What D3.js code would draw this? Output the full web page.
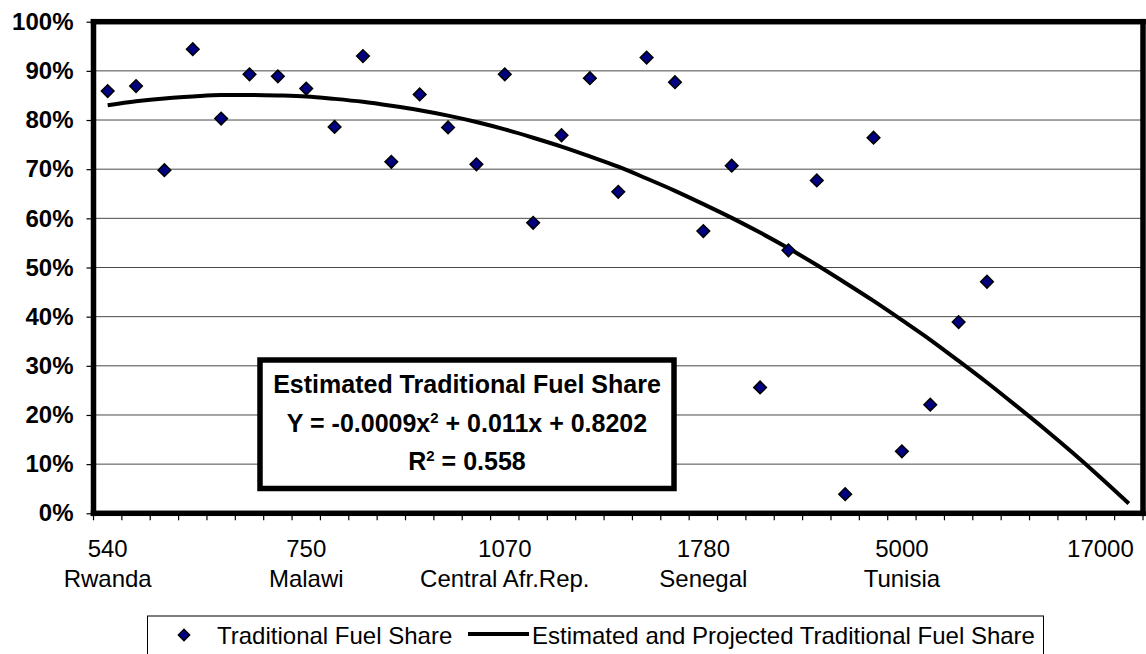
<!DOCTYPE html>
<html>
<head>
<meta charset="utf-8">
<script src="https://cdn.jsdelivr.net/npm/d3@7"></script>
<style>
  body { margin: 0; background: #fff; }
  svg { display: block; font-family: "Liberation Sans", Arial, sans-serif; }
</style>
</head>
<body>
<svg width="1146" height="654"></svg>
<script>
// income categories along the x axis (37 slots, only every 7th is labelled)
var nCategories = 37;
var tickIndex   = [0, 7, 14, 21, 28, 35];
var tickIncome  = ["540", "750", "1070", "1780", "5000", "17000"];
var tickCountry = ["Rwanda", "Malawi", "Central Afr.Rep.", "Senegal", "Tunisia", ""];

// observed traditional fuel share (%), one per country, slots 0..31
var fuelShare = [85.9, 86.9, 69.8, 94.4, 80.3, 89.3, 88.9, 86.4, 78.6, 93.0,
                 71.5, 85.2, 78.5, 71.0, 89.3, 59.1, 76.9, 88.5, 65.4, 92.7,
                 87.7, 57.4, 70.7, 25.6, 53.5, 67.7, 3.9, 76.4, 12.6, 22.1,
                 38.9, 47.1];

// estimated and projected trend (%), slots 0..36
var trendShare = [83.0, 83.8, 84.4, 84.8, 85.1, 85.1, 85.0, 84.8, 84.3, 83.7,
                  82.9, 82.0, 80.9, 79.6, 78.1, 76.4, 74.6, 72.6, 70.5, 68.1,
                  65.6, 62.9, 60.1, 57.1, 53.9, 50.5, 46.9, 43.2, 39.3, 35.3,
                  31.0, 26.6, 22.0, 17.3, 12.4, 7.3, 2.0];

var yTicks = [0, 10, 20, 30, 40, 50, 60, 70, 80, 90, 100];

// plot area edges (names avoid clashing with window.top)
var plotL = 93.5, plotR = 1143, plotT = 21.7, plotB = 513.3;
var frameW = 5.5;

var svg = d3.select("svg");

var x = d3.scaleBand()
    .domain(d3.range(nCategories))
    .range([plotL, plotR])
    .paddingInner(0).paddingOuter(0);
var bw = x.bandwidth();
var cx = function(i) { return x(i) + bw / 2; };

var y = d3.scaleLinear().domain([0, 100]).range([plotB, plotT]);

// horizontal gridlines
svg.append("g")
  .selectAll("line")
  .data(yTicks.slice(1, -1))
  .enter().append("line")
    .attr("x1", plotL).attr("x2", plotR)
    .attr("y1", function(d) { return y(d); })
    .attr("y2", function(d) { return y(d); })
    .attr("stroke", "#4a4a4a")
    .attr("stroke-width", 1);

// y axis with percent labels
var yAxis = svg.append("g")
    .attr("transform", "translate(" + plotL + ",0)")
    .call(d3.axisLeft(y).tickValues(yTicks).tickSize(7).tickPadding(13)
          .tickFormat(function(d) { return d + "%"; }));
yAxis.select(".domain").remove();
yAxis.selectAll("line").attr("stroke", "#000").attr("stroke-width", 1.2);
yAxis.selectAll("text")
    .attr("font-size", 24).attr("font-weight", "bold")
    .attr("font-family", "'Liberation Sans', Arial, sans-serif")
    .attr("fill", "#000");

// x tick marks at category boundaries
var bounds = d3.range(nCategories + 1).map(function(i) {
  return i < nCategories ? x(i) : x.range()[1];
});
svg.append("g")
  .selectAll("line")
  .data(bounds)
  .enter().append("line")
    .attr("x1", function(d) { return d; }).attr("x2", function(d) { return d; })
    .attr("y1", plotB).attr("y2", plotB + 7)
    .attr("stroke", "#000").attr("stroke-width", 1.2);

// x labels: income and country
var xl = svg.append("g").attr("font-size", 24).attr("text-anchor", "middle");
xl.selectAll("text.inc")
  .data(tickIndex)
  .enter().append("text")
    .attr("class", "inc")
    .attr("x", function(d) { return cx(d); })
    .attr("y", 557)
    .text(function(d, i) { return tickIncome[i]; });
xl.selectAll("text.cty")
  .data(tickIndex)
  .enter().append("text")
    .attr("class", "cty")
    .attr("x", function(d) { return cx(d); })
    .attr("y", 587)
    .text(function(d, i) { return tickCountry[i]; });

// trend curve
var line = d3.line()
    .x(function(d, i) { return cx(i); })
    .y(function(d) { return y(d); })
    .curve(d3.curveMonotoneX);
svg.append("path")
    .datum(trendShare)
    .attr("d", line)
    .attr("fill", "none")
    .attr("stroke", "#000")
    .attr("stroke-width", 4);

// observed points
var diamond = d3.symbol().type(d3.symbolSquare).size(80);
svg.append("g")
  .selectAll("path")
  .data(fuelShare)
  .enter().append("path")
    .attr("d", diamond)
    .attr("transform", function(d, i) {
      return "translate(" + cx(i) + "," + y(d) + ") rotate(45)";
    })
    .attr("fill", "#000080")
    .attr("stroke", "#000")
    .attr("stroke-width", 1.5);

// plot area frame as four solid bars
var h = frameW / 2;
var frame = [
  [plotL - h, plotT - h, plotR - plotL + frameW, frameW],
  [plotL - h, plotB - h, plotR - plotL + frameW, frameW],
  [plotL - h, plotT - h, frameW, plotB - plotT + frameW],
  [plotR - h, plotT - h, frameW, plotB - plotT + frameW]
];
svg.append("g")
  .selectAll("rect")
  .data(frame)
  .enter().append("rect")
    .attr("x", function(d) { return d[0]; })
    .attr("y", function(d) { return d[1]; })
    .attr("width", function(d) { return d[2]; })
    .attr("height", function(d) { return d[3]; })
    .attr("fill", "#000");

// equation box
var eq = svg.append("g");
eq.append("rect")
    .attr("x", 260).attr("y", 360)
    .attr("width", 414).attr("height", 128.5)
    .attr("fill", "#fff")
    .attr("stroke", "#000")
    .attr("stroke-width", 5.5);
var et = eq.append("g")
    .attr("font-size", 25).attr("font-weight", "bold")
    .attr("text-anchor", "middle");
et.append("text").attr("x", 467).attr("y", 393)
    .text("Estimated Traditional Fuel Share");
var l2 = et.append("text").attr("x", 467).attr("y", 432);
l2.append("tspan").text("Y = -0.0009x");
l2.append("tspan").attr("font-size", 15).attr("dy", -9).text("2");
l2.append("tspan").attr("dy", 9).text(" + 0.011x + 0.8202");
var l3 = et.append("text").attr("x", 467).attr("y", 470);
l3.append("tspan").text("R");
l3.append("tspan").attr("font-size", 15).attr("dy", -9).text("2");
l3.append("tspan").attr("dy", 9).text(" = 0.558");

// legend
var lg = svg.append("g");
lg.append("rect")
    .attr("x", 147.5).attr("y", 616)
    .attr("width", 896).attr("height", 60)
    .attr("fill", "#fff")
    .attr("stroke", "#000")
    .attr("stroke-width", 1);
lg.append("path")
    .attr("d", d3.symbol().type(d3.symbolSquare).size(64))
    .attr("transform", "translate(184,635) rotate(45)")
    .attr("fill", "#000080")
    .attr("stroke", "#000")
    .attr("stroke-width", 1.4);
lg.append("text").attr("x", 217).attr("y", 643.5).attr("font-size", 24)
    .text("Traditional Fuel Share");
lg.append("line")
    .attr("x1", 468).attr("x2", 529)
    .attr("y1", 634).attr("y2", 634)
    .attr("stroke", "#000").attr("stroke-width", 4);
lg.append("text").attr("x", 532).attr("y", 643.5).attr("font-size", 24)
    .text("Estimated and Projected Traditional Fuel Share");
</script>
</body>
</html>
